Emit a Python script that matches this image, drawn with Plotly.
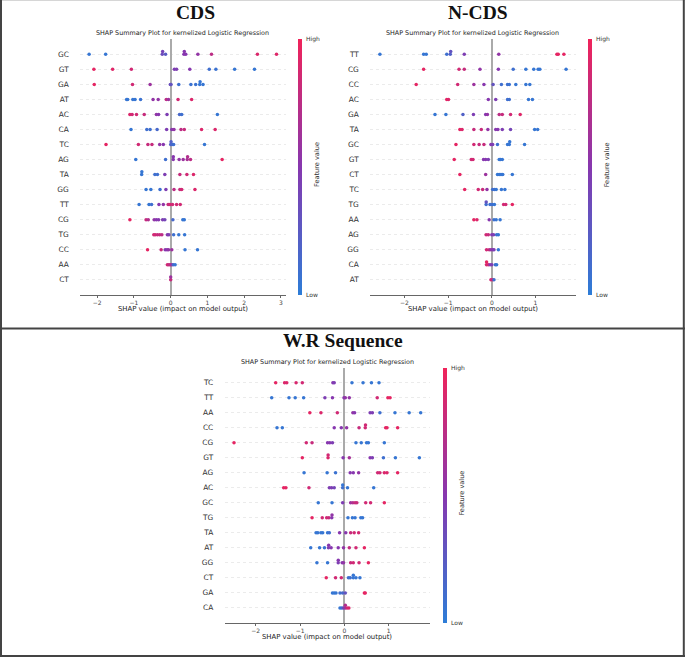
import numpy as np
import plotly.graph_objects as go

W, H = 685, 657

# ---------------- data ----------------
cds_features = ["GC", "GT", "GA", "AT", "AC", "CA", "TC", "AG", "TA", "GG", "TT", "CG", "TG", "CC", "AA", "CT"]
cds_shap = [
    [-2.22, -1.77, -0.23, -0.22, -0.14, 0.36, 0.37, 0.41, 0.74, 1.11, 2.36, 2.88],
    [-2.09, -1.58, -1.07, 0.10, 0.16, 0.52, 1.05, 1.23, 1.74, 2.28],
    [-2.08, -1.04, -0.56, -0.01, 0.01, 0.22, 0.55, 0.68, 0.79, 0.80, 0.88],
    [-1.20, -1.17, -1.03, -0.97, -0.82, -0.48, -0.34, -0.12, -0.06, 0.20, 0.57],
    [-1.11, -1.05, -0.93, -0.72, -0.39, -0.33, -0.10, 0.24, 0.30, 1.27],
    [-1.08, -0.65, -0.56, -0.37, -0.11, 0.03, 0.09, 0.28, 0.37, 0.84, 1.21],
    [-1.76, -0.88, -0.62, -0.51, -0.30, -0.20, 0.00, 0.01, 0.04, 0.08, 0.92],
    [-0.95, -0.14, 0.07, 0.071, 0.23, 0.34, 0.45, 0.46, 0.54, 1.40],
    [-0.79, -0.785, -0.43, -0.36, -0.16, 0.25, 0.44, 0.62],
    [-0.67, -0.54, -0.29, -0.13, 0.09, 0.25, 0.30, 0.66],
    [-0.86, -0.59, -0.52, -0.32, -0.20, -0.07, -0.02, 0.05, 0.16, 0.26],
    [-1.11, -0.67, -0.61, -0.45, -0.39, -0.33, -0.22, -0.16, 0.06, 0.33, 0.37],
    [-0.46, -0.42, -0.36, -0.30, -0.24, -0.09, -0.05, 0.08, 0.22, 0.38],
    [-0.63, -0.26, -0.15, -0.10, -0.06, 0.03, 0.39, 0.73],
    [-0.09, -0.05, -0.01, 0.03, 0.07, 0.12],
    [0.0, 0.0],
]
cds_fval = [
    [0.05, 0.05, 0.35, 0.4, 0.25, 0.5, 0.5, 0.5, 0.55, 0.75, 0.9, 0.92],
    [0.95, 0.92, 0.85, 0.45, 0.45, 0.5, 0.1, 0.08, 0.05, 0.05],
    [0.95, 0.85, 0.6, 0.35, 0.3, 0.1, 0.08, 0.08, 0.05, 0.05, 0.05],
    [0.05, 0.05, 0.05, 0.05, 0.08, 0.55, 0.55, 0.75, 0.6, 0.85, 0.9],
    [0.9, 0.85, 0.85, 0.8, 0.55, 0.5, 0.45, 0.15, 0.1, 0.05],
    [0.05, 0.1, 0.1, 0.15, 0.45, 0.5, 0.55, 0.75, 0.8, 0.9, 0.9],
    [0.95, 0.85, 0.8, 0.8, 0.55, 0.5, 0.2, 0.2, 0.15, 0.1, 0.05],
    [0.05, 0.1, 0.5, 0.5, 0.55, 0.6, 0.65, 0.7, 0.75, 0.95],
    [0.05, 0.05, 0.1, 0.1, 0.45, 0.8, 0.85, 0.9],
    [0.05, 0.05, 0.1, 0.45, 0.75, 0.8, 0.85, 0.9],
    [0.05, 0.05, 0.1, 0.5, 0.55, 0.8, 0.85, 0.85, 0.85, 0.85],
    [0.95, 0.8, 0.7, 0.55, 0.5, 0.5, 0.45, 0.4, 0.15, 0.05, 0.05],
    [0.85, 0.85, 0.8, 0.8, 0.75, 0.5, 0.45, 0.1, 0.05, 0.05],
    [0.95, 0.8, 0.5, 0.5, 0.55, 0.6, 0.05, 0.05],
    [0.85, 0.8, 0.75, 0.6, 0.15, 0.05],
    [0.8, 0.6],
]

ncds_features = ["TT", "CG", "CC", "AC", "GA", "TA", "GC", "GT", "CT", "TC", "TG", "AA", "AG", "GG", "CA", "AT"]
ncds_shap = [
    [-2.56, -1.56, -1.50, -1.03, -0.95, -0.94, -0.63, 0.16, 1.49, 1.52, 1.65],
    [-1.56, -0.75, -0.63, -0.27, 0.15, 0.49, 0.78, 0.96, 1.06, 1.10, 1.70],
    [-1.73, -0.78, -0.41, -0.18, 0.03, 0.22, 0.36, 0.40, 0.55, 0.78, 0.87],
    [-1.03, -0.99, -0.08, 0.09, 0.36, 0.40, 0.84, 0.93],
    [-1.30, -1.05, -0.66, -0.42, -0.14, -0.10, 0.17, 0.24, 0.43, 0.65],
    [-0.73, -0.68, -0.41, -0.24, -0.09, 0.09, 0.14, 0.24, 0.43, 0.98, 1.05],
    [-0.82, -0.41, -0.29, -0.18, -0.02, 0.02, 0.13, 0.36, 0.40, 0.41, 0.75],
    [-0.86, -0.47, -0.43, -0.19, -0.14, -0.08, 0.17, 0.20, 0.24],
    [-0.73, -0.14, 0.13, 0.17, 0.21, 0.25, 0.47],
    [-0.62, -0.31, -0.21, -0.11, 0.02, 0.06, 0.10, 0.22, 0.30],
    [-0.13, -0.128, -0.04, 0.01, 0.06, 0.27, 0.32, 0.47],
    [-0.41, -0.34, -0.06, 0.05, 0.10, 0.19],
    [-0.13, -0.08, 0.00, 0.04, 0.11, 0.15],
    [-0.12, -0.06, -0.02, 0.02, 0.05, 0.15],
    [-0.12, -0.119, -0.08, -0.04, 0.00, 0.08, 0.11],
    [-0.02, 0.02, 0.05],
]
ncds_fval = [
    [0.05, 0.05, 0.05, 0.1, 0.2, 0.3, 0.45, 0.55, 0.95, 0.95, 0.95],
    [0.95, 0.85, 0.8, 0.55, 0.5, 0.1, 0.05, 0.05, 0.05, 0.05, 0.05],
    [0.95, 0.85, 0.6, 0.5, 0.3, 0.1, 0.1, 0.08, 0.05, 0.05, 0.05],
    [0.95, 0.9, 0.5, 0.45, 0.1, 0.1, 0.05, 0.05],
    [0.05, 0.05, 0.2, 0.45, 0.5, 0.55, 0.75, 0.8, 0.85, 0.92],
    [0.95, 0.9, 0.8, 0.8, 0.55, 0.5, 0.5, 0.45, 0.4, 0.05, 0.05],
    [0.95, 0.85, 0.8, 0.8, 0.5, 0.45, 0.1, 0.05, 0.05, 0.05, 0.05],
    [0.95, 0.85, 0.85, 0.5, 0.5, 0.45, 0.05, 0.05, 0.05],
    [0.95, 0.6, 0.05, 0.05, 0.05, 0.05, 0.05],
    [0.95, 0.85, 0.8, 0.55, 0.1, 0.1, 0.05, 0.05, 0.05],
    [0.1, 0.3, 0.1, 0.1, 0.05, 0.85, 0.85, 0.95],
    [0.95, 0.9, 0.5, 0.1, 0.05, 0.05],
    [0.85, 0.8, 0.5, 0.45, 0.1, 0.05],
    [0.85, 0.8, 0.55, 0.5, 0.45, 0.05],
    [0.9, 0.95, 0.85, 0.5, 0.45, 0.1, 0.05],
    [0.85, 0.8, 0.1],
]

wr_features = ["TC", "TT", "AA", "CC", "CG", "GT", "AG", "AC", "GC", "TG", "TA", "AT", "GG", "CT", "GA", "CA"]
wr_shap = [
    [-1.55, -1.35, -1.30, -1.09, -0.95, -0.26, -0.23, 0.17, 0.42, 0.61, 0.78],
    [-1.64, -1.25, -1.11, -0.92, -0.44, -0.27, -0.01, 0.02, 0.11, 0.74, 0.98, 1.03],
    [-0.78, -0.53, -0.16, 0.19, 0.23, 0.58, 0.63, 0.80, 1.14, 1.46, 1.72],
    [-1.52, -1.40, -0.23, -0.07, 0.05, 0.33, 0.47, 0.475, 0.93, 0.96, 1.20],
    [-2.49, -0.86, -0.73, -0.38, -0.33, -0.27, 0.26, 0.38, 0.50, 0.54, 0.90],
    [-0.95, -0.37, -0.368, -0.03, 0.11, 0.58, 0.63, 0.88, 1.15, 1.69],
    [-0.91, -0.39, -0.20, 0.13, 0.20, 0.32, 0.75, 0.80, 0.90, 0.96, 1.20],
    [-1.37, -1.32, -0.80, -0.34, -0.29, -0.23, -0.04, -0.039, 0.07, 0.66],
    [-0.59, -0.28, -0.04, 0.14, 0.19, 0.24, 0.28, 0.48, 0.59, 0.90],
    [-0.73, -0.50, -0.40, -0.35, -0.285, -0.28, 0.08, 0.18, 0.24, 0.37, 0.41],
    [-0.64, -0.60, -0.53, -0.49, -0.38, -0.34, -0.11, 0.03, 0.14, 0.22, 0.32],
    [-0.76, -0.56, -0.45, -0.36, -0.355, -0.30, -0.14, -0.02, 0.11, 0.26, 0.45],
    [-0.62, -0.38, -0.14, -0.139, -0.05, -0.02, 0.14, 0.20, 0.33, 0.54],
    [-0.41, -0.20, -0.07, 0.09, 0.13, 0.20, 0.201, 0.26, 0.35],
    [-0.27, -0.23, -0.19, -0.10, -0.04, 0.02, 0.45, 0.47],
    [-0.10, -0.06, -0.02, 0.02, 0.02, 0.06, 0.10],
]
wr_fval = [
    [0.95, 0.9, 0.9, 0.88, 0.85, 0.5, 0.45, 0.05, 0.05, 0.05, 0.05],
    [0.05, 0.05, 0.05, 0.05, 0.45, 0.5, 0.5, 0.55, 0.55, 0.85, 0.95, 0.95],
    [0.95, 0.9, 0.85, 0.55, 0.5, 0.45, 0.45, 0.1, 0.05, 0.05, 0.05],
    [0.05, 0.05, 0.5, 0.5, 0.55, 0.8, 0.85, 0.85, 0.95, 0.95, 0.95],
    [0.95, 0.85, 0.8, 0.5, 0.5, 0.45, 0.05, 0.05, 0.05, 0.05, 0.05],
    [0.95, 0.9, 0.85, 0.5, 0.65, 0.5, 0.45, 0.1, 0.05, 0.05],
    [0.05, 0.05, 0.08, 0.5, 0.5, 0.55, 0.85, 0.85, 0.9, 0.9, 0.95],
    [0.95, 0.95, 0.85, 0.45, 0.45, 0.4, 0.1, 0.05, 0.05, 0.05],
    [0.05, 0.05, 0.45, 0.6, 0.7, 0.8, 0.8, 0.85, 0.85, 0.95],
    [0.95, 0.85, 0.85, 0.8, 0.5, 0.55, 0.05, 0.05, 0.05, 0.05, 0.05],
    [0.05, 0.05, 0.05, 0.05, 0.05, 0.1, 0.5, 0.5, 0.8, 0.85, 0.85],
    [0.05, 0.05, 0.08, 0.45, 0.5, 0.5, 0.5, 0.55, 0.8, 0.85, 0.95],
    [0.05, 0.05, 0.45, 0.5, 0.5, 0.55, 0.8, 0.85, 0.85, 0.95],
    [0.95, 0.85, 0.85, 0.1, 0.1, 0.05, 0.05, 0.05, 0.05],
    [0.05, 0.05, 0.05, 0.1, 0.15, 0.3, 0.95, 0.95],
    [0.05, 0.1, 0.4, 0.6, 0.7, 0.85, 0.9],
]

panel_titles = ["CDS", "N-CDS", "W.R Sequence"]
plot_title = "SHAP Summary Plot for kernelized Logistic Regression"
x_title = "SHAP value (impact on model output)"

# ---------------- style / layout ----------------
COLORSCALE = [[0.0, "rgb(45,125,215)"], [0.5, "rgb(135,55,175)"], [1.0, "rgb(240,35,90)"]]
SANS = "DejaVu Sans"


def px_x(x):
    return x / W


def px_y(y):
    return 1 - y / H


def swarm(vals, nbins=100, row_height=0.4):
    v = np.asarray(vals, float)
    quant = np.round(nbins * (v - v.min()) / (v.max() - v.min() + 1e-8))
    inds = np.argsort(quant, kind="stable")
    layer, last = 0, None
    ys = np.zeros(len(v))
    for i in inds:
        if quant[i] != last:
            layer = 0
        ys[i] = np.ceil(layer / 2) * ((layer % 2) * 2 - 1)
        layer += 1
        last = quant[i]
    ys *= 0.9 * (row_height / np.max(ys + 1))
    return ys


panels = [
    dict(feat=cds_features, shap=cds_shap, fval=cds_fval, x0=80.3, x1=285.7, yt=39.3, yb=294.8,
         xr=[-2.46, 3.13], head=(196, 12), ty=33.3, xty=308.5, cbx=298.0),
    dict(feat=ncds_features, shap=ncds_shap, fval=ncds_fval, x0=370.3, x1=575.7, yt=39.3, yb=294.8,
         xr=[-2.78, 1.92], head=(478.3, 12), ty=33.3, xty=308.5, cbx=588.3),
    dict(feat=wr_features, shap=wr_shap, fval=wr_fval, x0=224.7, x1=430.0, yt=367.7, yb=622.9,
         xr=[-2.70, 1.93], head=(342.7, 340), ty=362.3, xty=636.7, cbx=443.3),
]

fig = go.Figure()
annotations = []
shapes = []
layout_axes = {}

for k, p in enumerate(panels):
    sfx = "" if k == 0 else str(k + 1)
    n = len(p["feat"])
    xs, ys, cs = [], [], []
    for i, (sv, fv) in enumerate(zip(p["shap"], p["fval"])):
        pos = n - 1 - i
        off = swarm(sv)
        xs.extend(sv)
        ys.extend(pos + off)
        cs.extend(fv)
    fig.add_trace(go.Scatter(
        x=xs, y=ys, mode="markers", xaxis="x" + sfx, yaxis="y" + sfx,
        marker=dict(size=3.5, color=cs, coloraxis="coloraxis" + sfx, line=dict(width=0)),
        showlegend=False, hoverinfo="x",
    ))
    layout_axes["xaxis" + sfx] = dict(
        domain=[px_x(p["x0"]), px_x(p["x1"])], range=p["xr"], anchor="y" + sfx,
        showgrid=False, zeroline=True, zerolinecolor="#aaaaaa", zerolinewidth=1.6,
        showline=True, linecolor="#666666", linewidth=0.9,
        ticks="outside", ticklen=2, tickwidth=0.8, tickcolor="#666666", dtick=1,
        tickfont=dict(family=SANS, size=6.0, color="#444444"), fixedrange=True,
    )
    layout_axes["yaxis" + sfx] = dict(
        domain=[px_y(p["yb"]), px_y(p["yt"])], range=[-1, n], anchor="x" + sfx,
        tickvals=list(range(n)), ticktext=list(reversed(p["feat"])),
        showgrid=True, gridcolor="#ebebeb", gridwidth=0.6, griddash="dot",
        zeroline=False, showline=False, ticks="outside", ticklen=9,
        tickcolor="rgba(0,0,0,0)", tickfont=dict(family=SANS, size=7.4, color="#333333"),
        fixedrange=True,
    )
    cb_len = p["yb"] - p["yt"]
    layout_axes["coloraxis" + sfx] = dict(
        colorscale=COLORSCALE, cmin=0, cmax=1,
        colorbar=dict(x=px_x(p["cbx"]), xanchor="left", y=px_y((p["yt"] + p["yb"]) / 2),
                      yanchor="middle", len=cb_len, lenmode="pixels", thickness=3.6,
                      thicknessmode="pixels", outlinewidth=0, showticklabels=False,
                      ticks="", xpad=0, ypad=0),
    )
    cx = (p["x0"] + p["x1"]) / 2
    annotations.append(dict(x=px_x(p["head"][0]), y=px_y(p["head"][1]), xref="paper", yref="paper",
                            text="<b>" + panel_titles[k] + "</b>", showarrow=False,
                            font=dict(family="Liberation Serif", size=19.5, color="#111111"),
                            xanchor="center", yanchor="middle"))
    annotations.append(dict(x=px_x(cx), y=px_y(p["ty"]), xref="paper", yref="paper",
                            text=plot_title, showarrow=False,
                            font=dict(family=SANS, size=6.4, color="#222222"),
                            xanchor="center", yanchor="middle"))
    annotations.append(dict(x=px_x(cx), y=px_y(p["xty"]), xref="paper", yref="paper",
                            text=x_title, showarrow=False,
                            font=dict(family=SANS, size=6.9, color="#222222"),
                            xanchor="center", yanchor="middle"))
    annotations.append(dict(x=px_x(p["cbx"] + 5.5), y=px_y(p["yt"]), xref="paper", yref="paper",
                            text="High", showarrow=False,
                            font=dict(family=SANS, size=6.0, color="#333333"),
                            xanchor="left", yanchor="middle"))
    annotations.append(dict(x=px_x(p["cbx"] + 5.5), y=px_y(p["yb"]), xref="paper", yref="paper",
                            text="Low", showarrow=False,
                            font=dict(family=SANS, size=6.0, color="#333333"),
                            xanchor="left", yanchor="middle"))
    annotations.append(dict(x=px_x(p["cbx"] + 19), y=px_y((p["yt"] + p["yb"]) / 2 - 2),
                            xref="paper", yref="paper", text="Feature value", showarrow=False,
                            textangle=-90, font=dict(family=SANS, size=6.6, color="#333333"),
                            xanchor="center", yanchor="middle"))

shapes.append(dict(type="line", xref="paper", yref="paper", x0=0, x1=1, y0=px_y(0.5), y1=px_y(0.5),
                   line=dict(color="#d6d6d6", width=1.2)))
shapes.append(dict(type="line", xref="paper", yref="paper", x0=px_x(1), x1=px_x(1), y0=0, y1=1,
                   line=dict(color="#444444", width=2)))
shapes.append(dict(type="line", xref="paper", yref="paper", x0=px_x(683.8), x1=px_x(683.8), y0=0, y1=1,
                   line=dict(color="#444444", width=2)))
shapes.append(dict(type="line", xref="paper", yref="paper", x0=0, x1=1, y0=px_y(656), y1=px_y(656),
                   line=dict(color="#444444", width=2)))
shapes.append(dict(type="line", xref="paper", yref="paper", x0=0, x1=1, y0=px_y(328.5), y1=px_y(328.5),
                   line=dict(color="#444444", width=1.8)))

fig.update_layout(
    width=W, height=H, margin=dict(l=0, r=0, t=0, b=0, autoexpand=False),
    paper_bgcolor="white", plot_bgcolor="white",
    annotations=annotations, shapes=shapes, showlegend=False,
    **layout_axes,
)

fig.write_html(
    "out.html",
    config={"displayModeBar": False},
    post_script="document.body.style.margin='0';document.body.style.padding='0';document.body.style.overflow='hidden';",
)
